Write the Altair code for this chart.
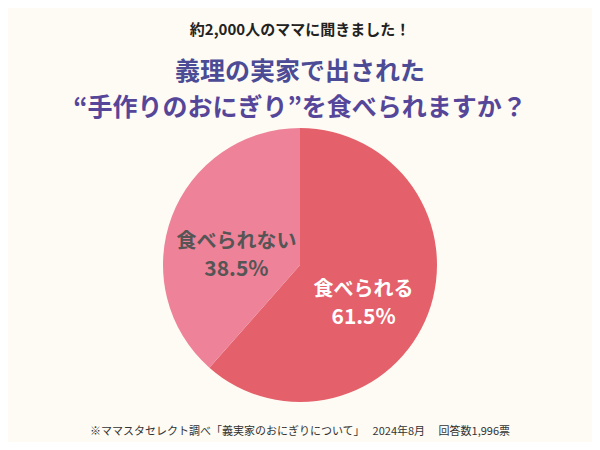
import altair as alt
import pandas as pd

categories = ["食べられる", "食べられない"]
values = [61.5, 38.5]
pct_labels = ["61.5%", "38.5%"]
colors = ["#e4606b", "#ee8299"]
text_colors = ["#ffffff", "#555555"]

subtitle = "約2,000人のママに聞きました！"
title1 = "義理の実家で出された"
title2 = "“手作りのおにぎり”を食べられますか？"
footer = "※ママスタセレクト調べ「義実家のおにぎりについて」　 2024年8月　 回答数1,996票"

df = pd.DataFrame({
    "cat": categories,
    "val": values,
    "pct": pct_labels,
    "order": list(range(len(categories))),
    "tc": text_colors,
})

FONT = "Noto Sans CJK JP"
CX, CY, R = 292, 257, 137

base = alt.Chart(df).encode(
    theta=alt.Theta("val:Q", stack=True),
    order=alt.Order("order:Q"),
)

pie = base.mark_arc(outerRadius=R, stroke=None).encode(
    x=alt.value(CX), y=alt.value(CY),
    color=alt.Color("cat:N", scale=alt.Scale(domain=categories, range=colors), legend=None),
)

lab1 = base.mark_text(radius=68, dy=1, font=FONT, fontSize=20, fontWeight="bold").encode(
    x=alt.value(CX), y=alt.value(CY),
    text="cat:N", color=alt.Color("tc:N", scale=None),
)
lab2 = base.mark_text(radius=68, dy=29, font=FONT, fontSize=21, fontWeight="bold").encode(
    x=alt.value(CX), y=alt.value(CY),
    text="pct:N", color=alt.Color("tc:N", scale=None),
)

def txt(s, y, size, color, weight="bold"):
    return alt.Chart(pd.DataFrame({"t": [s]})).mark_text(
        font=FONT, fontSize=size, fontWeight=weight, color=color, align="center", baseline="middle"
    ).encode(text="t:N", x=alt.value(292), y=alt.value(y))

t0 = txt(subtitle, 22, 15, "#222222")
t1 = txt(title1, 64, 25, "#4c4b96")
t2 = txt(title2, 100, 25, "#56469a")
ft = txt(footer, 424, 11, "#333333", weight="normal")

chart = alt.layer(pie, lab1, lab2, t0, t1, t2, ft).properties(
    width=584, height=434, autosize="none", padding=0, background="#fdfbf3"
).configure_view(stroke=None)

chart.save("out.html", embed_options={"renderer": "svg", "actions": False})
